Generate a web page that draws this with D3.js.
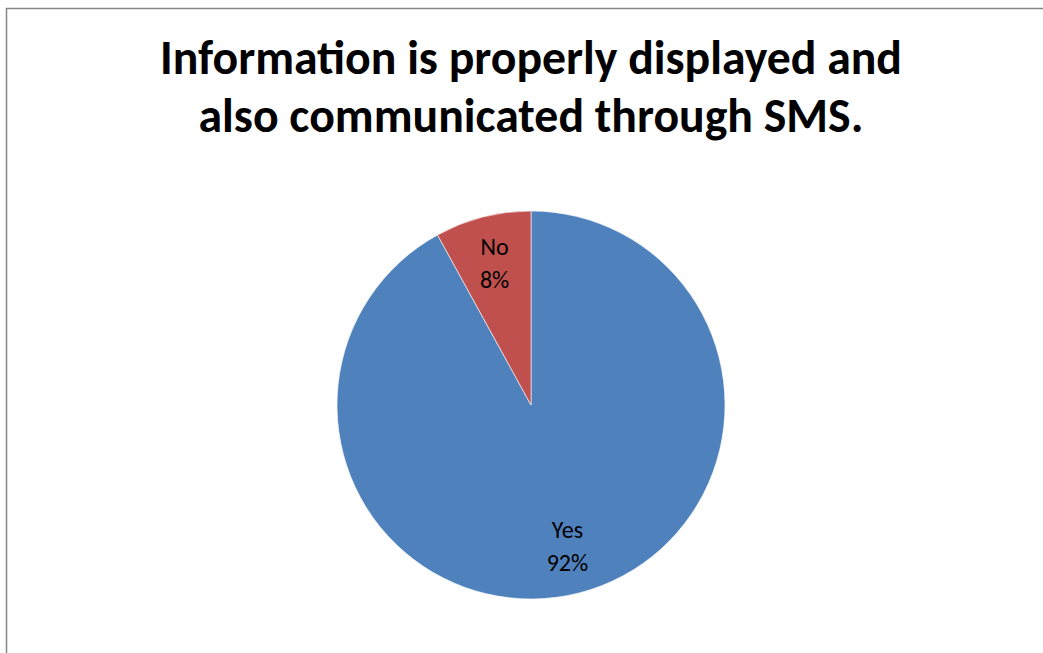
<!DOCTYPE html>
<html><head><meta charset="utf-8">
<script src="https://cdn.jsdelivr.net/npm/d3@7"></script>
<style>html,body{margin:0;padding:0;background:#fff;overflow:hidden}</style>
</head><body>
<svg id="chart" width="1043" height="653"></svg>
<script>
const titleLines = ["Information is properly displayed and", "also communicated through SMS."];
const categories = ["Yes", "No"];
const values = [92, 8];
const colors = ["#4F81BD", "#C0504D"];

const W = 1043, H = 653;
const svg = d3.select("#chart");
const FONT = "Carlito, Lato, 'Open Sans', sans-serif";

svg.append("rect").attr("x", 6.5).attr("y", 8.5).attr("width", W + 10).attr("height", H + 10)
  .attr("fill", "#fff").attr("stroke", "#868686").attr("stroke-width", 1.5);

// title
const titleWidths = [742, 665];
const title = svg.append("g");
titleLines.forEach((t, i) => {
  const tx = title.append("text")
    .attr("x", 531).attr("y", 74 + i * 58)
    .attr("text-anchor", "middle")
    .attr("font-family", FONT).attr("font-weight", "bold")
    .attr("font-size", 40).attr("fill", "#000").text(t);
  const w = tx.node().getComputedTextLength();
  tx.attr("font-size", 40 * titleWidths[i] / w);
});

const cx = 531, cy = 405, R = 194;
const data = categories.map((c, i) => ({ cat: c, val: values[i], color: colors[i] }));
const pie = d3.pie().sort(null).value(d => d.val);
const arcs = pie(data);
const arc = d3.arc().innerRadius(0).outerRadius(R);
const labelArc = d3.arc().innerRadius(R * 0.755).outerRadius(R * 0.755);
const total = d3.sum(values);

const g = svg.append("g").attr("transform", `translate(${cx},${cy})`);
g.selectAll("path").data(arcs).join("path")
  .attr("d", arc).attr("fill", d => d.data.color)
  .attr("stroke", "#fff").attr("stroke-width", 0.6);

const lbl = g.selectAll("text.lbl").data(arcs).join("text")
  .attr("class", "lbl")
  .attr("transform", d => `translate(${labelArc.centroid(d)})`)
  .attr("text-anchor", "middle")
  .attr("font-family", FONT).attr("font-size", 24).attr("fill", "#000");
lbl.append("tspan").attr("x", 0).attr("dy", "-0.35em").text(d => d.data.cat);
lbl.append("tspan").attr("x", 0).attr("dy", "1.375em")
  .text(d => Math.round(d.data.val / total * 100) + "%");
</script>
</body></html>
